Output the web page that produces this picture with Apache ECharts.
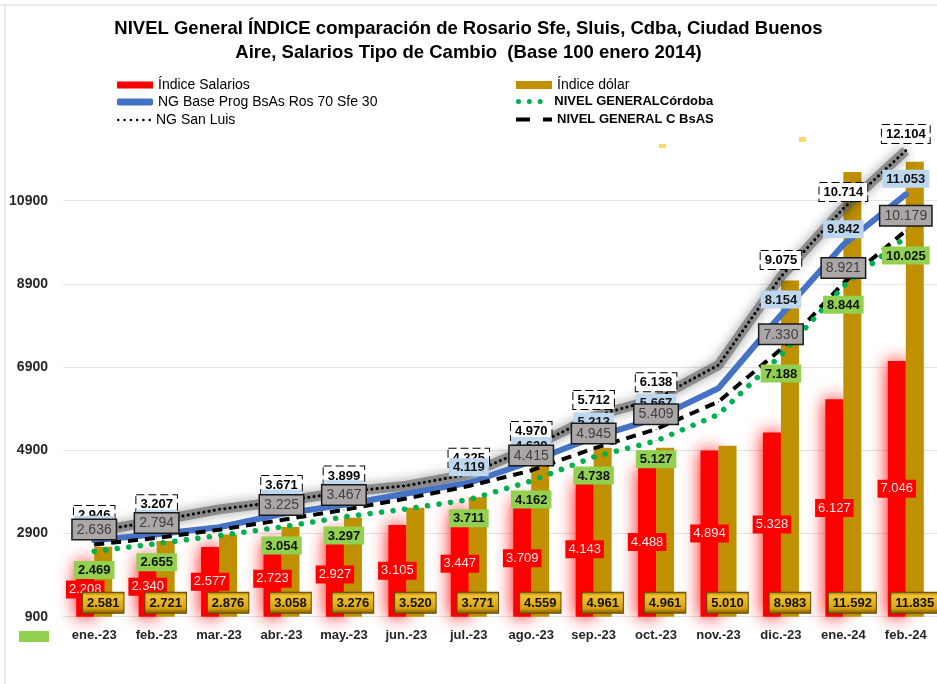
<!DOCTYPE html>
<html>
<head>
<meta charset="utf-8">
<script src="https://cdn.jsdelivr.net/npm/echarts@6/dist/echarts.min.js"></script>
<style>
  html, body { margin: 0; padding: 0; background: #fff; }
  #grafico { width: 937px; height: 684px; }
</style>
</head>
<body>
<div id="grafico"></div>
<script>
// datos (base 100 enero 2014)
var meses = ['ene.-23', 'feb.-23', 'mar.-23', 'abr.-23', 'may.-23', 'jun.-23', 'jul.-23',
  'ago.-23', 'sep.-23', 'oct.-23', 'nov.-23', 'dic.-23', 'ene.-24', 'feb.-24'];
var salarios = [2208, 2340, 2577, 2723, 2927, 3105, 3447, 3709, 4143, 4488, 4894, 5328, 6127, 7046];
var dolar = [2581, 2721, 2876, 3058, 3276, 3520, 3771, 4559, 4961, 4961, 5010, 8983, 11592, 11835];
var sanLuis = [2946, 3207, 3480, 3671, 3899, 4050, 4325, 4970, 5712, 6138, 6950, 9075, 10714, 12104];
var baseProg = [2740, 2880, 3050, 3370, 3590, 3860, 4119, 4630, 5213, 5667, 6390, 8154, 9842, 11053];
var cordoba = [2469, 2655, 2850, 3054, 3297, 3490, 3711, 4162, 4738, 5127, 5760, 7188, 8844, 10025];
var cBsAs = [2636, 2794, 2990, 3225, 3467, 3740, 4040, 4415, 4945, 5409, 6070, 7330, 8921, 10179];
var ticksY = [900, 2900, 4900, 6900, 8900, 10900];
// meses sin etiqueta en las lineas
var sinEtiqueta = [2, 5, 10];
var sinEtiquetaBsAs = [2, 5, 6, 10];

var fuente = "'Liberation Sans', Arial, sans-serif";

function miles(p) {
  return String(p.value).replace(/\B(?=(\d{3})+(?!\d))/g, '.');
}
function puntos(vals, saltar) {
  return vals.map(function (v, i) {
    return { value: v, label: { show: saltar.indexOf(i) < 0 } };
  });
}

var chart = echarts.init(document.getElementById('grafico'));

var leyendaBase = {
  orient: 'horizontal', padding: 0, itemGap: 0, selectedMode: false,
  itemWidth: 36, itemHeight: 8,
  textStyle: { fontSize: 14, color: '#000', fontFamily: fuente }
};
function leyenda(extra) { return Object.assign({}, leyendaBase, extra); }

var option = {
  animation: false,
  title: {
    text: 'NIVEL General ÍNDICE comparación de Rosario Sfe, Sluis, Cdba, Ciudad Buenos\nAire, Salarios Tipo de Cambio  (Base 100 enero 2014)',
    left: 'center', top: 17, padding: [0, 0, 0, 7],
    textStyle: { fontSize: 18.5, fontWeight: 'bold', color: '#000', lineHeight: 24, fontFamily: fuente }
  },
  legend: [
    leyenda({ left: 117, top: 78, itemHeight: 7,
      data: [{ name: 'Índice Salarios', icon: 'rect', itemStyle: { shadowBlur: 0 } }] }),
    leyenda({ left: 117, top: 95, itemHeight: 7,
      data: [{ name: 'NG Base Prog BsAs Ros 70 Sfe 30', icon: 'roundRect', itemStyle: { color: '#4472C4' } }] }),
    leyenda({ left: 117, top: 113, itemWidth: 34, itemHeight: 3,
      data: [{ name: 'NG San Luis', itemStyle: { color: '#000' },
        icon: 'path://M0,1.3a1.3,1.3 0 1,0 2.6,0a1.3,1.3 0 1,0 -2.6,0M6.5,1.3a1.3,1.3 0 1,0 2.6,0a1.3,1.3 0 1,0 -2.6,0M13,1.3a1.3,1.3 0 1,0 2.6,0a1.3,1.3 0 1,0 -2.6,0M19.5,1.3a1.3,1.3 0 1,0 2.6,0a1.3,1.3 0 1,0 -2.6,0M26,1.3a1.3,1.3 0 1,0 2.6,0a1.3,1.3 0 1,0 -2.6,0M32.5,1.3a1.3,1.3 0 1,0 2.6,0a1.3,1.3 0 1,0 -2.6,0' }] }),
    leyenda({ left: 516, top: 78, itemHeight: 8,
      data: [{ name: 'Índice dólar', icon: 'rect' }] }),
    leyenda({ left: 516, top: 95, itemWidth: 32, itemHeight: 5,
      textStyle: { fontSize: 13, fontWeight: 'bold', color: '#000', fontFamily: fuente, padding: [0, 0, 0, 4] },
      data: [{ name: 'NIVEL GENERALCórdoba', itemStyle: { color: '#00B050' },
        icon: 'path://M0,3a3,3 0 1,0 6,0a3,3 0 1,0 -6,0M13,3a3,3 0 1,0 6,0a3,3 0 1,0 -6,0M26,3a3,3 0 1,0 6,0a3,3 0 1,0 -6,0' }] }),
    leyenda({ left: 516, top: 113, itemWidth: 36, itemHeight: 4,
      textStyle: { fontSize: 13, fontWeight: 'bold', color: '#000', fontFamily: fuente },
      data: [{ name: 'NIVEL GENERAL C BsAS', itemStyle: { color: '#000' },
        icon: 'path://M0,0L14,0L14,4L0,4ZM27,0L36,0L36,4L27,4Z' }] })
  ],
  grid: { left: 63, width: 877, top: 117.5, bottom: 67.3 },
  xAxis: {
    type: 'category', data: meses,
    axisLine: { show: false }, axisTick: { show: false },
    axisLabel: { color: '#262626', fontSize: 13, fontWeight: 'bold', margin: 12, fontFamily: fuente }
  },
  yAxis: {
    type: 'value', min: 900, max: 12900, interval: 2000,
    axisLine: { show: false }, axisTick: { show: false },
    axisLabel: {
      color: '#262626', fontSize: 14, fontWeight: 'bold', margin: 15, fontFamily: fuente,
      formatter: function (v) { return ticksY.indexOf(v) >= 0 ? String(v) : ''; }
    },
    splitLine: { lineStyle: { color: ['#E3E3E3', '#E3E3E3', '#E3E3E3', '#E3E3E3', '#E3E3E3', '#E3E3E3', 'rgba(0,0,0,0)'], width: 1 } }
  },
  series: [
    {
      name: 'Índice Salarios', type: 'bar', data: salarios, barWidth: 18, barGap: '0%',
      itemStyle: { color: '#FF0000', shadowColor: 'rgba(255,0,0,1)', shadowBlur: 18 },
      label: {
        show: true, position: 'inside', formatter: miles,
        color: '#FFE6E6', backgroundColor: '#FF0000', padding: [3, 3, 2, 3],
        fontSize: 13, fontFamily: fuente
      }
    },
    {
      name: 'Índice dólar', type: 'bar', data: dolar, barWidth: 18, barGap: '0%',
      itemStyle: { color: '#BF9000' },
      label: {
        show: true, position: 'insideBottom', distance: 4, formatter: miles,
        color: '#111', fontWeight: 'bold', fontSize: 13, fontFamily: fuente,
        backgroundColor: new echarts.graphic.LinearGradient(0, 0, 0, 1, [
          { offset: 0, color: '#9C7400' }, { offset: 0.18, color: '#F2C230' },
          { offset: 0.75, color: '#D9A312' }, { offset: 1, color: '#7A5A00' }]),
        borderColor: '#5C4500', borderWidth: 1, padding: [4, 4, 3, 4]
      }
    },
    {
      // brillo gris bajo la linea de San Luis
      name: 'brillo San Luis', type: 'line', data: sanLuis, symbol: 'none', silent: true,
      lineStyle: { color: 'rgba(95,95,95,0.6)', width: 10, shadowColor: 'rgba(0,0,0,0.6)', shadowBlur: 12 }
    },
    {
      name: 'NG San Luis', type: 'line', data: puntos(sanLuis, sinEtiqueta),
      symbol: 'circle', symbolSize: 1, itemStyle: { color: '#000' },
      lineStyle: { color: '#000', width: 3, type: [0.1, 5.2], cap: 'round' },
      label: {
        show: true, position: 'top', distance: 7, formatter: miles,
        color: '#000', fontWeight: 'bold', fontSize: 13, fontFamily: fuente,
        backgroundColor: '#fff', borderColor: '#000', borderWidth: 1, borderType: 'dashed',
        padding: [3, 4, 2, 4]
      }
    },
    {
      name: 'NG Base Prog BsAs Ros 70 Sfe 30', type: 'line', data: puntos(baseProg, sinEtiqueta),
      symbol: 'circle', symbolSize: 1, itemStyle: { color: '#4472C4' },
      lineStyle: { color: '#4472C4', width: 6, cap: 'round' },
      label: {
        show: true, position: 'top', distance: 6, formatter: miles,
        color: '#151515', fontWeight: 'bold', fontSize: 13, fontFamily: fuente,
        backgroundColor: '#BDD7EE', padding: [3, 4, 2, 4]
      }
    },
    {
      name: 'NIVEL GENERAL C BsAS', type: 'line', data: puntos(cBsAs, sinEtiquetaBsAs),
      symbol: 'circle', symbolSize: 1, itemStyle: { color: '#000' },
      lineStyle: { color: '#000', width: 4, type: [10, 7] },
      label: {
        show: true, position: 'top', distance: 5, formatter: miles,
        color: '#404040', fontSize: 14, fontFamily: fuente,
        backgroundColor: '#ABA7A7', borderColor: '#1A1A1A', borderWidth: 1.5,
        padding: [3, 4, 2, 4]
      }
    },
    {
      name: 'NIVEL GENERALCórdoba', type: 'line', data: puntos(cordoba, sinEtiqueta),
      symbol: 'circle', symbolSize: 1, itemStyle: { color: '#00B050' },
      lineStyle: { color: '#00B050', width: 5.5, type: [0.1, 11.5], cap: 'round' },
      label: {
        show: true, position: 'bottom', distance: 9, formatter: miles,
        color: '#111', fontWeight: 'bold', fontSize: 13, fontFamily: fuente,
        backgroundColor: '#92D050', padding: [3, 4, 2, 4]
      }
    }
  ],
  graphic: [
    { type: 'line', shape: { x1: 0, y1: 5, x2: 937, y2: 5 }, style: { stroke: '#D9D9D9', lineWidth: 1 }, silent: true },
    { type: 'line', shape: { x1: 5, y1: 5, x2: 5, y2: 684 }, style: { stroke: '#D9D9D9', lineWidth: 1 }, silent: true },
    { type: 'rect', shape: { x: 19, y: 631, width: 30, height: 11 }, style: { fill: '#92D050' }, silent: true },
    { type: 'rect', shape: { x: 659, y: 144, width: 7, height: 4 }, style: { fill: '#FFD966' }, silent: true },
    { type: 'rect', shape: { x: 799, y: 137, width: 7, height: 5 }, style: { fill: '#FFD966' }, silent: true }
  ]
};

chart.setOption(option);
</script>
</body>
</html>
